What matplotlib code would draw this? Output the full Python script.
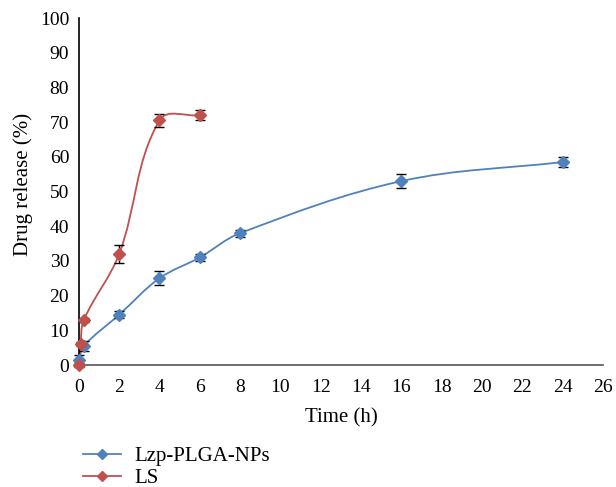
import numpy as np
import matplotlib.pyplot as plt
from matplotlib.path import Path
from matplotlib.patches import PathPatch
from matplotlib.lines import Line2D

plt.rcParams['font.family'] = ['Liberation Serif', 'DejaVu Serif']

# data
t_np = [0, 0.25, 2, 4, 6, 8, 16, 24]
rel_np = [1.5, 5.5, 14.5, 25, 31, 38, 53, 58.5]
err_np = [1.5, 1.5, 1.0, 2.0, 1.0, 1.0, 2.0, 1.5]

t_ls = [0, 0.083, 0.25, 2, 4, 6]
rel_ls = [0, 6, 13, 32, 70.5, 72]
err_ls = [0.5, 0.5, 0.5, 2.5, 1.8, 1.5]

blue = '#4F81BD'
red = '#C0504D'

# rough pixel scale of the axes, used to weight the smoothing
sx, sy = 20.15, 3.47


def smooth_path(x, y):
    # smoothed line as cubic bezier segments, tangents weighted by chord length
    x = np.asarray(x, float)
    y = np.asarray(y, float)
    px, py = x * sx, y * sy
    n = len(x)
    seg = np.hypot(np.diff(px), np.diff(py))
    tx = np.zeros(n)
    ty = np.zeros(n)
    for i in range(n):
        a = max(i - 1, 0)
        b = min(i + 1, n - 1)
        d = np.hypot(px[b] - px[a], py[b] - py[a])
        tx[i] = (px[b] - px[a]) / d
        ty[i] = (py[b] - py[a]) / d
    verts = [(x[0], y[0])]
    codes = [Path.MOVETO]
    for i in range(n - 1):
        k = seg[i] / 2.8
        c1 = ((px[i] + tx[i] * k) / sx, (py[i] + ty[i] * k) / sy)
        c2 = ((px[i + 1] - tx[i + 1] * k) / sx, (py[i + 1] - ty[i + 1] * k) / sy)
        verts += [c1, c2, (x[i + 1], y[i + 1])]
        codes += [Path.CURVE4] * 3
    return Path(verts, codes)


fig = plt.figure(figsize=(6.16, 4.87), dpi=100)
ax = fig.add_axes([0.128, 0.2505, 0.851, 0.7125])

for t, r, e, c in [(t_np, rel_np, err_np, blue), (t_ls, rel_ls, err_ls, red)]:
    ax.add_patch(PathPatch(smooth_path(t, r), facecolor='none', edgecolor=c, lw=1.3, zorder=2))
    ax.errorbar(t, r, yerr=e, fmt='none', ecolor='black', elinewidth=1, capsize=3.5, capthick=1, zorder=3)
    ax.plot(t, r, 'D', color=c, markersize=6.5, zorder=4)

ax.set_xlim(0, 26)
ax.set_ylim(0, 100)
ax.set_xticks(range(0, 27, 2))
ax.set_yticks(range(0, 101, 10))
ax.tick_params(length=0, labelsize=14)
ax.tick_params(axis='x', pad=10)
ax.tick_params(axis='y', pad=7)
ax.spines['top'].set_visible(False)
ax.spines['right'].set_visible(False)
ax.spines['left'].set_linewidth(1.2)
ax.spines['bottom'].set_linewidth(1.2)
ax.spines['bottom'].set_color('#555555')
for a in ax.patches + ax.lines + ax.collections:
    a.set_clip_on(False)

ax.set_xlabel('Time (h)', fontsize=15, labelpad=9)
ax.set_ylabel('Drug release (%)', fontsize=15)
ax.yaxis.set_label_coords(-0.088, 0.52)

handles = [Line2D([], [], color=blue, marker='D', markersize=5, lw=1.3),
           Line2D([], [], color=red, marker='D', markersize=5, lw=1.3)]
fig.legend(handles, ['Lzp-PLGA-NPs', 'LS'], loc='upper left', bbox_to_anchor=(0.118, 0.104),
           frameon=False, fontsize=15, handlelength=1.8, handletextpad=0.65,
           labelspacing=0.1, borderpad=0)

fig.savefig('out.png', dpi=100)
